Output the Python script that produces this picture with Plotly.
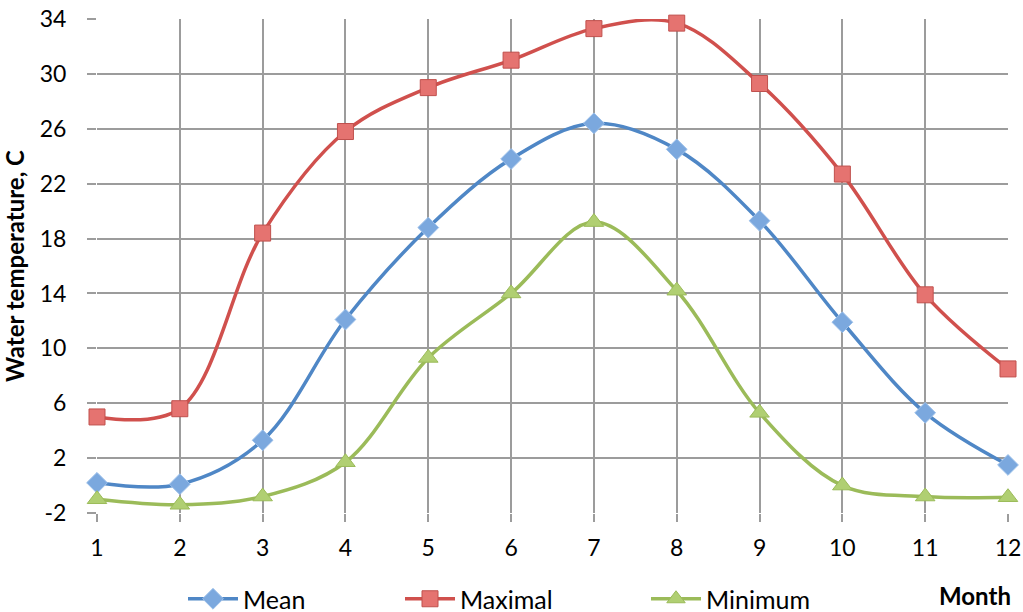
import plotly.graph_objects as go

months = [1, 2, 3, 4, 5, 6, 7, 8, 9, 10, 11, 12]
mean_temp = [0.2, 0.1, 3.3, 12.1, 18.8, 23.8, 26.4, 24.5, 19.3, 11.9, 5.3, 1.5]
max_temp = [5.0, 5.6, 18.4, 25.8, 29.0, 31.0, 33.3, 33.7, 29.3, 22.7, 13.9, 8.5]
min_temp = [-1.0, -1.4, -0.8, 1.7, 9.3, 14.0, 19.2, 14.2, 5.3, 0.0, -0.8, -0.85]
y_ticks = [-2, 2, 6, 10, 14, 18, 22, 26, 30, 34]
y_tick_text = ["-2", "2", "6", "10", "14", "18", "22", "26", "30", "34"]

FONT = "Lato, 'Open Sans', sans-serif"
GRID = "#9c9c9c"

series = [
    ("Mean", mean_temp, "#4F87C6", "diamond", "#7BA8DE", "#9CC0EA", 16, "legend"),
    ("Maximal", max_temp, "#D0504D", "square", "#E57370", "#C0504D", 16, "legend2"),
    ("Minimum", min_temp, "#9BBB59", "triangle-up", "#B0CF72", "#9BBB59", 17, "legend3"),
]

fig = go.Figure()
for name, vals, lc, sym, fill, edge, size, leg in series:
    fig.add_trace(go.Scatter(
        x=months, y=vals, name=name, mode="lines+markers",
        line=dict(color=lc, width=3.5, shape="spline", smoothing=1.0),
        marker=dict(symbol=sym, size=size, color=fill,
                    line=dict(color=edge, width=1)),
        cliponaxis=False,
        legend=leg, showlegend=True,
    ))

legend_common = dict(
    visible=True, orientation="h", xref="container", yref="container",
    yanchor="middle", y=13 / 612, xanchor="left",
    font=dict(family=FONT, size=25, color="#000"),
    bgcolor="rgba(0,0,0,0)", itemwidth=50,
)

fig.update_layout(
    width=1023, height=612, showlegend=True,
    margin=dict(l=97, r=15, t=19, b=99, autoexpand=False),
    plot_bgcolor="white", paper_bgcolor="white",
    font=dict(family=FONT, size=23, color="#000"),
    xaxis=dict(
        range=[1, 12], tickvals=months, ticktext=[str(m) for m in months],
        showgrid=True, gridcolor=GRID, gridwidth=2,
        ticks="outside", ticklen=8, tickwidth=2, tickcolor=GRID,
        zeroline=False, showline=False,
        tickfont=dict(family=FONT, size=23), ticklabelstandoff=6,
    ),
    yaxis=dict(
        range=[-2, 34], tickvals=y_ticks, ticktext=y_tick_text,
        showgrid=True, gridcolor=GRID, gridwidth=2,
        ticks="outside", ticklen=9, tickwidth=2, tickcolor=GRID,
        zeroline=False, showline=False,
        tickfont=dict(family=FONT, size=23), ticklabelstandoff=16,
        title=dict(text="<b>Water temperature, C</b>",
                   font=dict(family=FONT, size=24), standoff=10),
    ),
    legend=dict(legend_common, x=183 / 1023),
    legend2=dict(legend_common, x=400 / 1023),
    legend3=dict(legend_common, x=646 / 1023),
    annotations=[dict(
        text="<b>Month</b>", xref="paper", yref="paper",
        x=1.006, y=-0.168, xanchor="right", yanchor="middle",
        showarrow=False, font=dict(family=FONT, size=24),
    )],
)

fig.write_html("out.html")
